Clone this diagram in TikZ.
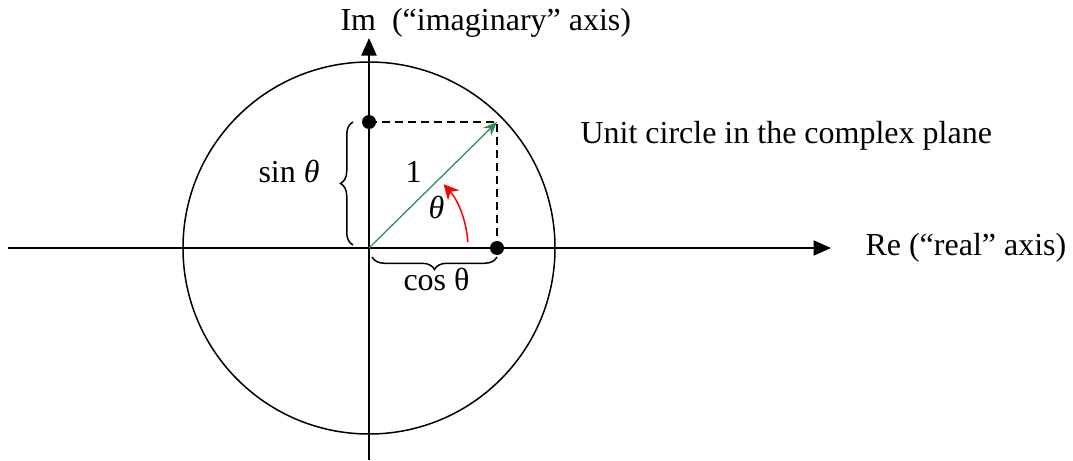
\documentclass[tikz,border=0pt]{standalone}
\usepackage{fontspec}
\setmainfont{Liberation Serif}
\usetikzlibrary{arrows.meta,decorations.pathreplacing}
\definecolor{vecG}{HTML}{2E8B57}
\definecolor{angR}{HTML}{FF0000}
\tikzset{
 axis/.style={line width=.8pt,-{Triangle[length=7pt,width=6pt]}},
 lbl/.style={anchor=base west,inner sep=0pt},
 brc/.style={decorate,decoration={brace,amplitude=5pt},line width=.6pt}
}

\begin{document}
\begin{tikzpicture}[x=0.4pt,y=-0.4pt,font=\fontsize{12.8}{15}\selectfont,>=Latex]
\useasboundingbox (0,0) rectangle (1073,460);
\coordinate (O) at (369,248);
\coordinate (P) at (497,122);
\coordinate (S) at (369,122);
\coordinate (C) at (497,248);
\coordinate (W) at (8,248);
\coordinate (E) at (831,248);
\coordinate (B) at (369,460);
\coordinate (T) at (369,38);
\draw[axis] (W)--(E);
\draw[axis] (B)--(T);
\draw[line width=.6pt] (O) circle (186);
\draw[line width=.7pt,dash pattern=on 3.2pt off 2pt] (S)--(P)--(C);
\foreach \p in {S,C}
 \fill (\p) circle (7);
\draw[vecG,line width=.5pt,-{Stealth[length=5.5pt,width=4.5pt]}] (O)--(P);
% angle arrow, drawn around O
\draw[angR,line width=.6pt,-{Stealth[length=6pt,width=6pt]}] ([shift={(-3.5:99)}]O) arc (-3.5:-42:95);
% braces for the two projections
\coordinate (sa) at (353,245);
\coordinate (sb) at (353,122);
\coordinate (ca) at (497,257);
\coordinate (cb) at (372,257);
\draw[brc] (sa)--(sb);
\draw[brc] (ca)--(cb);
\node[lbl] (sinL) at (258,182) {sin {\itshape θ}};
\node[lbl] (cosL) at (403,290) {cos θ};
\node[lbl] (oneL) at (405,182) {1};
\node[lbl] (thL) at (428,218) {\itshape θ};
\node[lbl] (imL) at (340,30) {Im\enspace(“imaginary” axis)};
\node[lbl] (reL) at (865,255) {Re (“real” axis)};
\node[lbl] (ucL) at (580,143) {Unit circle in the complex plane};
\end{tikzpicture}
\end{document}
